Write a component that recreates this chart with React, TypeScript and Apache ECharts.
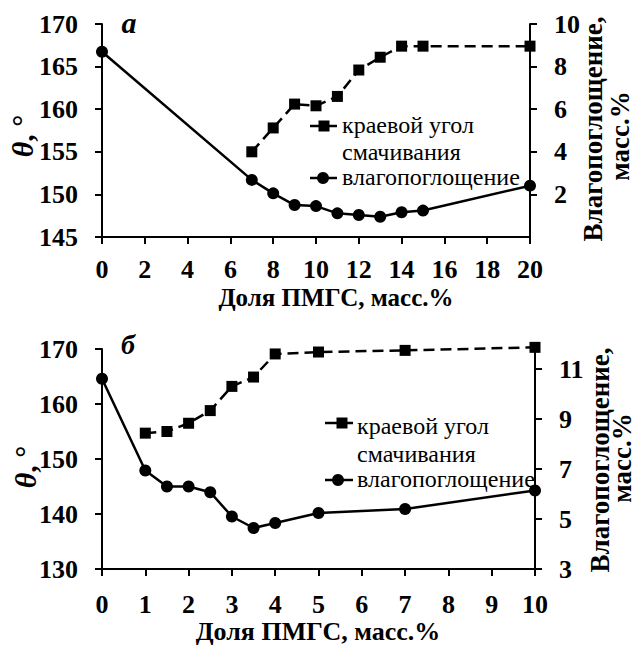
import React, { useEffect, useRef } from "react";
import * as echarts from "echarts";

const FONT = "Liberation Serif, Times New Roman, serif";

// Panel а (x: доля ПМГС 0..20)
const aAngleX = [7, 8, 9, 10, 11, 12, 13, 14, 15, 20];
const aAngle = [155.0, 157.8, 160.6, 160.4, 161.5, 164.6, 166.1, 167.4, 167.4, 167.4];
const aMoistX = [0, 7, 8, 9, 10, 11, 12, 13, 14, 15, 20];
const aMoist = [8.7, 2.68, 2.05, 1.5, 1.45, 1.11, 1.03, 0.95, 1.16, 1.24, 2.41];

// Panel б (x: доля ПМГС 0..10)
const bAngleX = [1, 1.5, 2, 2.5, 3, 3.5, 4, 5, 7, 10];
const bAngle = [154.7, 155.0, 156.5, 158.8, 163.2, 164.9, 169.1, 169.45, 169.75, 170.3];
const bMoistX = [0, 1, 1.5, 2, 2.5, 3, 3.5, 4, 5, 7, 10];
const bMoist = [10.61, 6.94, 6.3, 6.3, 6.07, 5.1, 4.64, 4.84, 5.24, 5.4, 6.14];

const bRightTicks = [3, 5, 7, 9, 11];

const xTitle = "Доля ПМГС, масс.%";
const rightTitle1 = "Влагопоглощение,";
const rightTitle2 = "масс.%";
const legendAngle = ["краевой угол", "смачивания"];
const legendMoist = "влагопоглощение";
const panelLetters = ["а", "б"];

const zip = (xs: number[], ys: number[]) => xs.map((x, i) => [x, ys[i]]);

const TICK_FS = 26;

function axisStyle(margin: number) {
  return {
    axisLine: { show: true, onZero: false, lineStyle: { color: "#000", width: 2 } },
    axisTick: { show: true, inside: false, length: 7, lineStyle: { color: "#000", width: 2 } },
    axisLabel: {
      color: "#000",
      fontFamily: FONT,
      fontWeight: "bold",
      fontSize: TICK_FS,
      lineHeight: 20,
      margin,
    },
    splitLine: { show: false },
  };
}

function legendGroup(
  x0: number,
  x1: number,
  sqX: number,
  ciX: number,
  s1: number,
  s3: number,
  t1: number,
  t2: number,
  t3: number,
  tx: number
) {
  const txtStyle = {
    fill: "#000",
    font: `24px ${FONT}`,
    lineHeight: 20,
    textVerticalAlign: "middle",
    textAlign: "left",
  };
  return [
    { type: "line", shape: { x1: x0, y1: s1, x2: x1, y2: s1 }, style: { stroke: "#000", lineWidth: 2.5 } },
    { type: "rect", shape: { x: sqX - 5.5, y: s1 - 5.5, width: 11, height: 11 }, style: { fill: "#000" } },
    { type: "text", x: tx, y: t1, style: { ...txtStyle, text: legendAngle[0] } },
    { type: "text", x: tx, y: t2, style: { ...txtStyle, text: legendAngle[1] } },
    { type: "line", shape: { x1: x0, y1: s3, x2: x1, y2: s3 }, style: { stroke: "#000", lineWidth: 2.5 } },
    { type: "circle", shape: { cx: ciX, cy: s3, r: 6 }, style: { fill: "#000" } },
    { type: "text", x: tx, y: t3, style: { ...txtStyle, text: legendMoist } },
  ];
}

function vText(x: number, y: number, text: string, size: number) {
  return {
    type: "text",
    x,
    y,
    rotation: Math.PI / 2,
    style: {
      text,
      fill: "#000",
      font: `bold ${size}px ${FONT}`,
      lineHeight: size - 4,
      textAlign: "center",
      textVerticalAlign: "middle",
    },
  };
}

function hText(x: number, y: number, text: string, font: string, lh: number) {
  return {
    type: "text",
    x,
    y,
    style: { text, fill: "#000", font, lineHeight: lh, textAlign: "center", textVerticalAlign: "middle" },
  };
}

function thetaLabel(x: number, y: number) {
  return {
    type: "text",
    x,
    y,
    rotation: Math.PI / 2,
    style: {
      text: "{i|θ}{n|, °}",
      fill: "#000",
      textAlign: "center",
      textVerticalAlign: "middle",
      rich: {
        i: { font: `italic bold 30px ${FONT}`, fill: "#000", lineHeight: 26 },
        n: { font: `bold 30px ${FONT}`, fill: "#000", lineHeight: 26 },
      },
    },
  };
}

export default function App() {
  const ref = useRef<HTMLDivElement>(null);
  useEffect(() => {
    if (!ref.current) return;
    const chart = echarts.init(ref.current, undefined, { renderer: "svg" });
    const angleStyle = {
      type: "line",
      symbol: "rect",
      symbolSize: 11,
      clip: false,
      itemStyle: { color: "#000" },
      lineStyle: { color: "#000", width: 2.5, type: [11, 6] },
    };
    const moistStyle = {
      type: "line",
      symbol: "circle",
      symbolSize: 12,
      clip: false,
      itemStyle: { color: "#000" },
      lineStyle: { color: "#000", width: 2.5, type: "solid" },
    };
    const axA = axisStyle(22);
    const axB = axisStyle(25);
    const ay = axisStyle(24);
    chart.setOption({
      animation: false,
      backgroundColor: "#fff",
      grid: [
        { left: 102, top: 24, width: 428, height: 213 },
        { left: 102, top: 349, width: 433, height: 220 },
      ],
      xAxis: [
        { type: "value", gridIndex: 0, min: 0, max: 20, interval: 2, ...axA },
        { type: "value", gridIndex: 1, min: 0, max: 10, interval: 1, ...axB },
      ],
      yAxis: [
        { type: "value", gridIndex: 0, position: "left", min: 145, max: 170, interval: 5, ...ay },
        {
          type: "value",
          gridIndex: 0,
          position: "right",
          min: 0,
          max: 10,
          interval: 2,
          ...ay,
          axisLabel: { ...ay.axisLabel, showMinLabel: false },
        },
        { type: "value", gridIndex: 1, position: "left", min: 130, max: 170, interval: 10, ...ay },
        {
          type: "value",
          gridIndex: 1,
          position: "right",
          min: 3,
          max: 11.8,
          ...ay,
          axisTick: { ...ay.axisTick, customValues: bRightTicks },
          axisLabel: { ...ay.axisLabel, customValues: bRightTicks },
        },
      ],
      series: [
        { ...angleStyle, name: legendAngle.join(" "), xAxisIndex: 0, yAxisIndex: 0, data: zip(aAngleX, aAngle) },
        { ...moistStyle, name: legendMoist, xAxisIndex: 0, yAxisIndex: 1, data: zip(aMoistX, aMoist) },
        { ...angleStyle, name: legendAngle.join(" "), xAxisIndex: 1, yAxisIndex: 2, data: zip(bAngleX, bAngle) },
        { ...moistStyle, name: legendMoist, xAxisIndex: 1, yAxisIndex: 3, data: zip(bMoistX, bMoist) },
      ],
      graphic: [
        hText(129, 22, panelLetters[0], `italic bold 30px ${FONT}`, 24),
        hText(128, 344, panelLetters[1], `italic bold 28px ${FONT}`, 22),
        hText(336, 297, xTitle, `bold 25px ${FONT}`, 20),
        hText(318, 631, xTitle, `bold 26px ${FONT}`, 20),
        thetaLabel(22, 136),
        thetaLabel(25, 467),
        vText(593, 129, rightTitle1, 27),
        vText(620, 136, rightTitle2, 27),
        vText(600, 460, rightTitle1, 27),
        vText(622, 458, rightTitle2, 27),
        ...legendGroup(310, 337, 324, 323, 126, 178, 125, 152, 177, 342),
        ...legendGroup(325, 353, 342, 338, 423, 480, 426, 454, 479, 357),
      ],
    });
    return () => chart.dispose();
  }, []);
  return (
    <div
      ref={ref}
      style={{ position: "fixed", left: 0, top: 0, width: 637, height: 649, background: "#fff" }}
    />
  );
}
